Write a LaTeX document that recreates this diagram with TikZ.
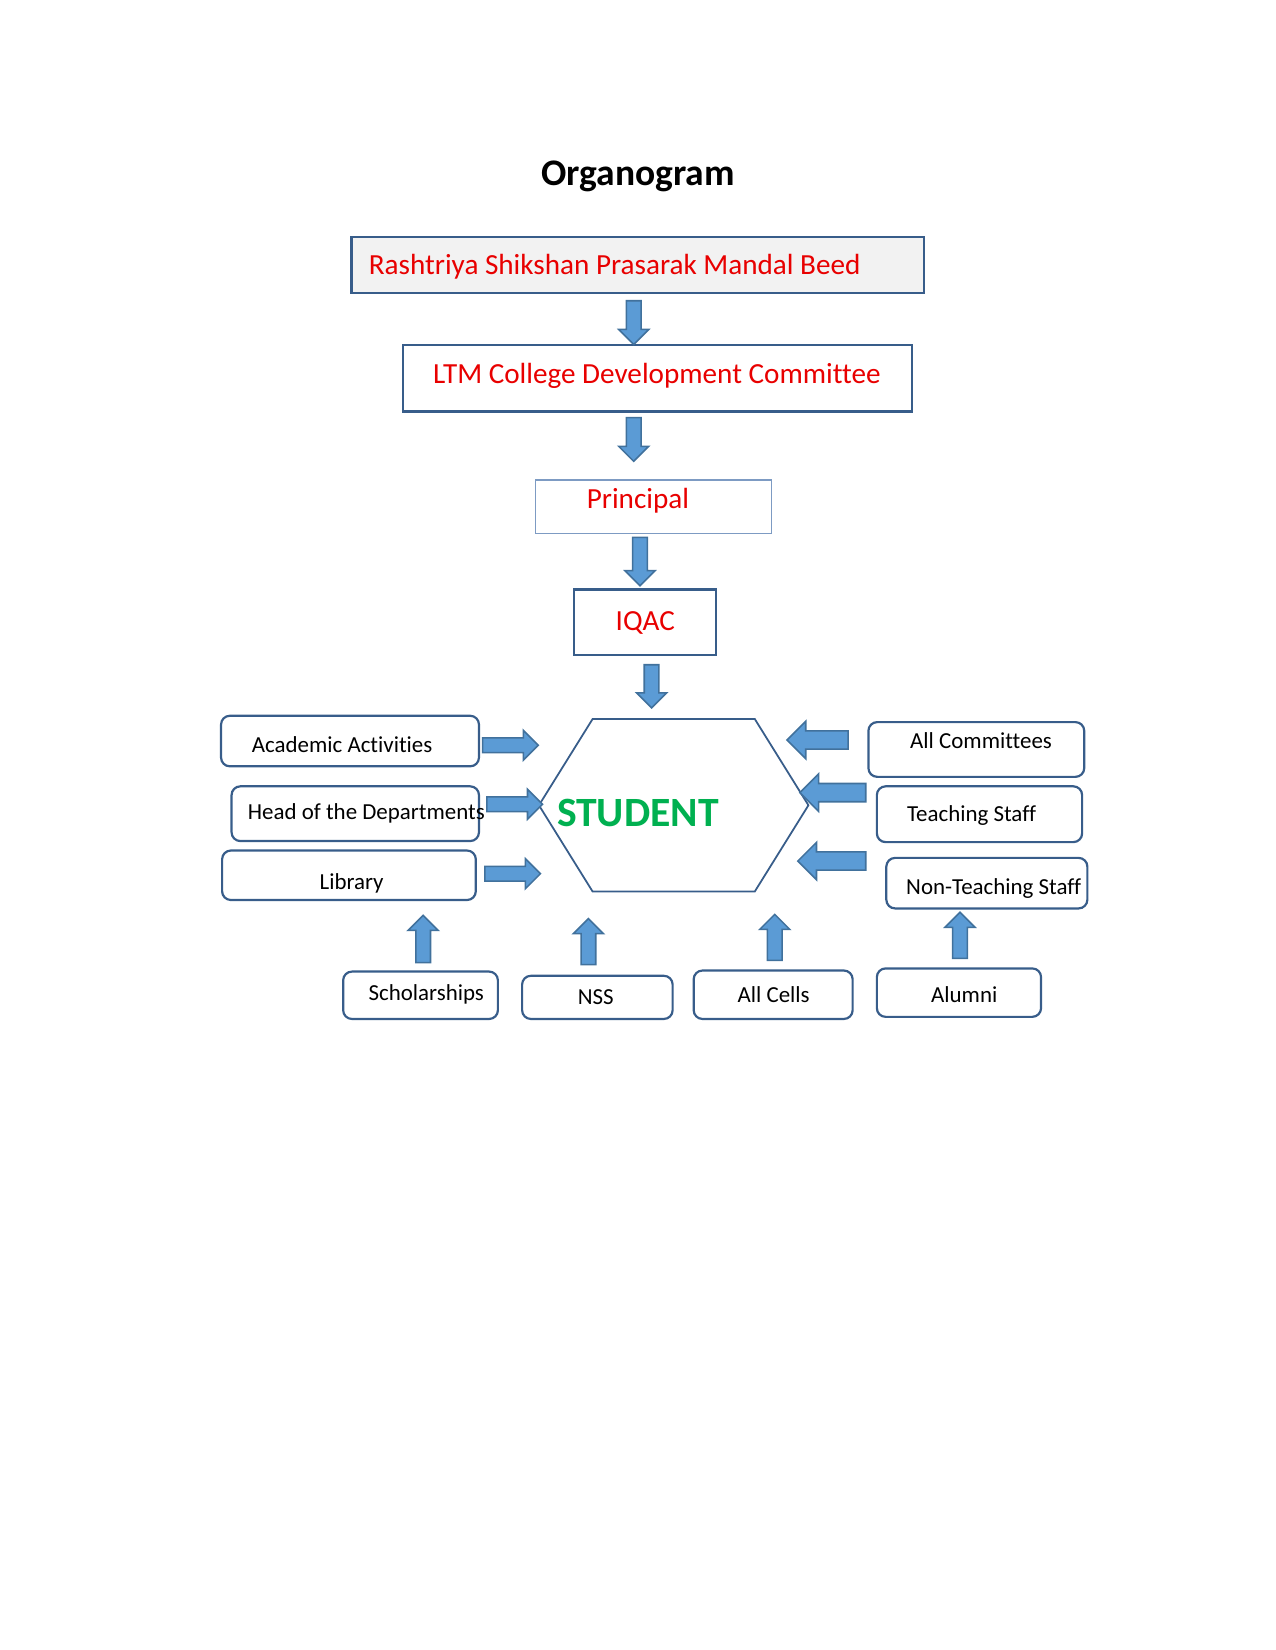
\documentclass[tikz,border=0pt]{standalone}
\usepackage{fontspec}
\setmainfont{Carlito}[Ligatures=NoCommon]
\usetikzlibrary{shapes.arrows,fit}
\definecolor{boxblue}{RGB}{56,93,138}
\definecolor{paleblue}{RGB}{125,155,195}
\definecolor{arrowfill}{RGB}{91,155,213}
\definecolor{arrowline}{RGB}{65,113,156}
\definecolor{headred}{RGB}{232,0,0}
\definecolor{studentgreen}{RGB}{0,176,80}
\definecolor{boxgray}{RGB}{242,242,242}

\begin{document}
\begin{tikzpicture}[x=0.50526pt,y=-0.50526pt,
        box/.style={draw=boxblue,line width=1.05pt,inner sep=0pt},
        rbox/.style={box,rounded corners=4.2pt},
        redtxt/.style={text=headred,font=\fontsize{14}{16}\selectfont,inner sep=0pt,yshift=-1pt},
        blacktxt/.style={font=\fontsize{11}{13}\selectfont,inner sep=0pt,yshift=-0.6pt},
        barrow/.style={single arrow,draw=arrowline,fill=arrowfill,line width=0.75pt,
            inner xsep=0pt,inner ysep=3.15pt,single arrow head extend=3.7pt,minimum width=1pt},
        wide/.style={inner ysep=4pt,single arrow head extend=4.6pt}]
    \useasboundingbox (0,0) rectangle (1211.3,1567.5);

    \node[font=\fontsize{18}{21}\selectfont\bfseries] (title) at (606,168) {Organogram};

    \node[box,fill=boxgray,fit={(334,225) (878,278)}] (rspm) {};
    \node[redtxt,anchor=west] (rspm-t) at (350,251) {Rashtriya Shikshan Prasarak Mandal Beed};
    \node[box,fit={(383,328) (866,391)}] (lcdc) {};
    \node[redtxt] (lcdc-t) at (624,355) {LTM College Development Committee};
    \node[box,draw=paleblue,line width=0.65pt,fit={(509,456) (733,507)}] (principal) {};
    \node[redtxt] (principal-t) at (606,474) {Principal};
    \node[box,fit={(545,560) (680,622)}] (iqac) {};
    \node[redtxt] (iqac-t) at (613,590) {IQAC};

    \node[barrow,rotate=-90,minimum height=21pt] (a1) at (602,303) {};
    \node[barrow,rotate=-90,minimum height=21pt] (a2) at (602,414) {};
    \node[barrow,rotate=-90,minimum height=23.2pt] (a3) at (608,530) {};
    \node[barrow,rotate=-90,minimum height=20.7pt] (a4) at (619,648.5) {};

    \draw[draw=boxblue,line width=0.85pt] (563,683) -- (717,683) -- (768,765) -- (717,847)
        -- (563,847) -- (512,765) -- cycle;
    \node[text=studentgreen,font=\fontsize{20}{24}\selectfont\bfseries] (student) at (606,772) {STUDENT};

    \node[rbox,fit={(210,680) (455,728)}] (academic) {};
    \node[blacktxt] (academic-t) at (325,706) {Academic Activities};
    \node[rbox,fit={(220,747) (455,799)}] (hod) {};
    \node[blacktxt] (hod-t) at (348,772) {Head of the Departments};
    \node[rbox,fit={(211,808) (452,855)}] (library) {};
    \node[blacktxt] (library-t) at (334,838) {Library};

    \node[barrow,minimum height=26.7pt] (r1) at (481.5,708) {};
    \node[barrow,minimum height=26.7pt] (r2) at (485.5,764) {};
    \node[barrow,minimum height=26.7pt] (r3) at (483.5,830) {};

    \node[rbox,fit={(825,686) (1030,738)}] (committees) {};
    \node[blacktxt] (committees-t) at (932,702) {All Committees};
    \node[rbox,fit={(833,747) (1028,800)}] (teaching) {};
    \node[blacktxt] (teaching-t) at (923,774) {Teaching Staff};
    \node[rbox,fit={(842,815) (1033,863)}] (nonteaching) {};
    \node[blacktxt] (nonteaching-t) at (944,843) {Non-Teaching Staff};

    \node[barrow,wide,rotate=180,minimum height=29.3pt] (l1) at (781,703) {};
    \node[barrow,wide,rotate=180,minimum height=31.6pt] (l2) at (795.5,753) {};
    \node[barrow,wide,rotate=180,minimum height=32.6pt] (l3) at (794.5,818) {};

    \node[rbox,fit={(326,923) (473,968)}] (scholar) {};
    \node[blacktxt] (scholar-t) at (405,943) {Scholarships};
    \node[rbox,fit={(496,927) (639,968)}] (nss) {};
    \node[blacktxt] (nss-t) at (566,946) {NSS};
    \node[rbox,fit={(659,922) (810,968)}] (cells) {};
    \node[blacktxt] (cells-t) at (735,944) {All Cells};
    \node[rbox,fit={(833,920) (989,966)}] (alumni) {};
    \node[blacktxt] (alumni-t) at (916,944) {Alumni};

    \node[barrow,rotate=90,minimum height=22.7pt] (u1) at (402,895.5) {};
    \node[barrow,rotate=90,minimum height=22.1pt] (u2) at (559,898) {};
    \node[barrow,rotate=90,minimum height=22.1pt] (u3) at (736,894) {};
    \node[barrow,rotate=90,minimum height=22.1pt] (u4) at (912,892) {};
\end{tikzpicture}
\end{document}
